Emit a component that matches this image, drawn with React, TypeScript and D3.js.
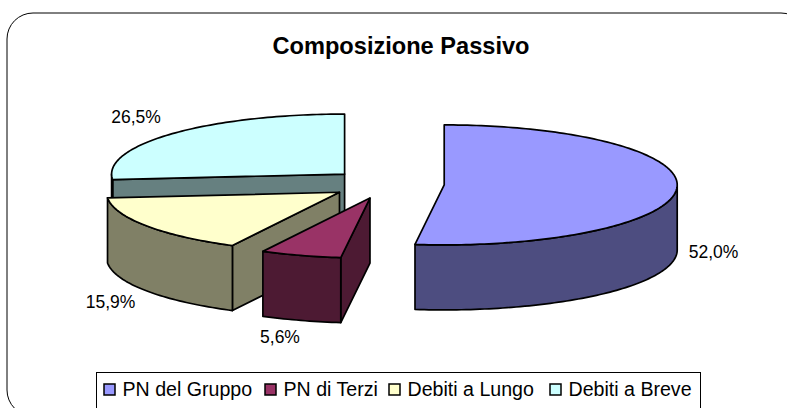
import React from "react";
import * as d3 from "d3";

const titleText = "Composizione Passivo";
const categories = ["PN del Gruppo", "PN di Terzi", "Debiti a Lungo", "Debiti a Breve"];
const values = [52.0, 5.6, 15.9, 26.5];
const valueLabels = ["52,0%", "5,6%", "15,9%", "26,5%"];
const topColors = ["#9999ff", "#993366", "#ffffcc", "#ccffff"];
const sideColors = ["#4d4d80", "#4d1a33", "#808066", "#668080"];
const labelPositions: [number, number][] = [[713.5, 258], [280, 343], [110.5, 308], [136, 123]];
const drawOrder = [3, 0, 2, 1];

const W = 787, H = 408;
const cx = 387, cy = 184, rx = 233, ry = 60, depth = 65, explode = 0.246;

const slices = d3.pie<number>().sort(null)(values);

function pt(a: number, ox: number, oy: number, dy = 0): [number, number] {
  return [ox + rx * Math.sin(a), oy - ry * Math.cos(a) + dy];
}
const line = d3.line();

function arcPts(a0: number, a1: number, ox: number, oy: number, dy = 0) {
  const n = Math.max(2, Math.ceil(Math.abs(a1 - a0) / 0.02));
  return d3.range(n + 1).map((i) => pt(a0 + ((a1 - a0) * i) / n, ox, oy, dy));
}

function Slice({ i }: { i: number }) {
  const s = slices[i];
  const mid = (s.startAngle + s.endAngle) / 2;
  const ox = cx + explode * rx * Math.sin(mid);
  const oy = cy - explode * ry * Math.cos(mid);
  const apex: [number, number] = [ox, oy];
  const apexB: [number, number] = [ox, oy + depth];
  const stroke = { stroke: "#000", strokeWidth: 1.7, strokeLinejoin: "round" as const };
  const faces: [number, number][][] = [];
  // Cut walls turned to the viewer: the start wall of the two left-hand slices and the end-of-pie wall of the last one
  const walls: number[] = [];
  if (i === 1 || i === 2 || i === 3) walls.push(s.startAngle);
  walls.forEach((a) => {
    faces.push([apex, pt(a, ox, oy), pt(a, ox, oy, depth), apexB]);
  });
  // Outer rim: only the part of the rim turned to the viewer
  const r0 = Math.max(s.startAngle, Math.PI / 2);
  const r1 = Math.min(s.endAngle, (3 * Math.PI) / 2);
  if (r1 > r0) {
    faces.push([...arcPts(r0, r1, ox, oy), ...arcPts(r1, r0, ox, oy, depth)]);
  }
  const top: [number, number][] = [apex, ...arcPts(s.startAngle, s.endAngle, ox, oy)];
  return (
    <g>
      {faces.map((f, k) => (
        <path key={k} d={line(f) + "Z"} fill={sideColors[i]} {...stroke} />
      ))}
      <path d={line(top) + "Z"} fill={topColors[i]} {...stroke} />
    </g>
  );
}

const legendX = d3.scaleOrdinal<number, number>().domain([0, 1, 2, 3]).range([104, 265, 389, 550]);

export default function App() {
  return (
    <svg
      width={W}
      height={H}
      style={{ position: "fixed", left: 0, top: 0, background: "#fff", fontFamily: "'Liberation Sans', Arial, sans-serif" }}
    >
      <rect x={7} y={13} width={800} height={403} rx={26} ry={26} fill="#fff" stroke="#000" strokeWidth={1} />
      <text x={401} y={54} textAnchor="middle" fontSize={23.6} fontWeight="bold" fill="#000">
        {titleText}
      </text>
      {drawOrder.map((i) => (
        <Slice key={i} i={i} />
      ))}
      {valueLabels.map((t, i) => (
        <text key={t} x={labelPositions[i][0]} y={labelPositions[i][1]} textAnchor="middle" fontSize={17.5} fill="#000">
          {t}
        </text>
      ))}
      <rect x={96.5} y={372.5} width={604} height={50} fill="#fff" stroke="#000" strokeWidth={1} />
      {categories.map((c, i) => (
        <g key={c}>
          <rect x={legendX(i)} y={384} width={11} height={11} fill={topColors[i]} stroke="#000" strokeWidth={1.5} />
          <text x={legendX(i) + 18.5} y={396} fontSize={19.6} fill="#000">
            {c}
          </text>
        </g>
      ))}
    </svg>
  );
}
